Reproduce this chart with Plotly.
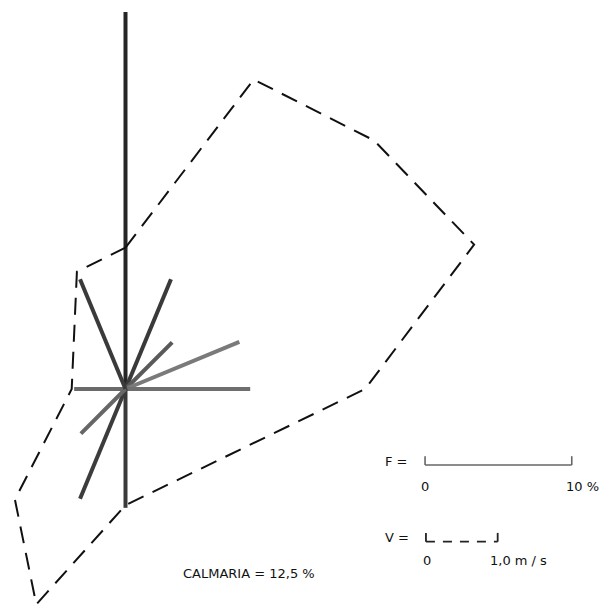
import numpy as np
import plotly.graph_objects as go

# Wind rose: frequency per direction (%) and mean wind speed per direction (m/s)
directions = ["N", "NNE", "NE", "ENE", "E", "S", "SSW", "SW", "W", "NNW"]
azimuth_deg = [0, 22.5, 45, 67.5, 90, 180, 202.5, 225, 270, 337.5]
frequency_pct = [25.7, 8.1, 4.5, 8.4, 8.5, 8.1, 8.1, 4.3, 3.5, 8.1]
speed_ms = [1.97, 4.67, 4.90, 5.26, 3.34, 1.62, 3.25, 2.18, 0.75, 1.77]
calm_pct = 12.5

# Scale references
freq_scale_pct = 10.0
speed_scale_ms = 1.0
pct_per_ms = 4.89  # drawing length of 1 m/s, in frequency units

az = np.radians(azimuth_deg)
freq = np.array(frequency_pct)
spd = np.array(speed_ms) * pct_per_ms

line_colors = {"N": "#262626", "NNE": "#3a3a3a", "NE": "#5a5a5a", "ENE": "#7a7a7a",
               "E": "#6e6e6e", "S": "#3a3a3a", "SSW": "#3c3c3c", "SW": "#666666",
               "W": "#6a6a6a", "NNW": "#3a3a3a"}

fig = go.Figure()

# Frequency rays
for name, a, f in zip(directions, az, freq):
    fig.add_trace(go.Scatter(
        x=[0, f * np.sin(a)], y=[0, f * np.cos(a)], mode="lines",
        line=dict(color=line_colors[name], width=4),
        hoverinfo="skip", showlegend=False))

# Mean speed polygon (dashed)
px = np.append(spd * np.sin(az), spd[0] * np.sin(az[0]))
py = np.append(spd * np.cos(az), spd[0] * np.cos(az[0]))
fig.add_trace(go.Scatter(
    x=px, y=py, mode="lines",
    line=dict(color="#111111", width=2, dash="17px,10px"),
    hoverinfo="skip", showlegend=False))

# Frequency scale bar
fx0, fy = 20.42, -5.18
tick = 0.6
fig.add_trace(go.Scatter(
    x=[fx0, fx0, None, fx0, fx0 + freq_scale_pct, None,
       fx0 + freq_scale_pct, fx0 + freq_scale_pct],
    y=[fy + tick, fy, None, fy, fy, None, fy, fy + tick],
    mode="lines", line=dict(color="#666666", width=1.6),
    hoverinfo="skip", showlegend=False))

# Speed scale bar (dashed)
vx0, vy = 20.48, -10.41
vlen = speed_scale_ms * pct_per_ms
fig.add_trace(go.Scatter(
    x=[vx0, vx0, None, vx0 + vlen, vx0 + vlen],
    y=[vy + tick, vy, None, vy, vy + tick],
    mode="lines", line=dict(color="#222222", width=1.8),
    hoverinfo="skip", showlegend=False))
fig.add_trace(go.Scatter(
    x=[vx0, vx0 + vlen], y=[vy, vy], mode="lines",
    line=dict(color="#222222", width=1.8, dash="9px,8px"),
    hoverinfo="skip", showlegend=False))

font = dict(family="DejaVu Sans", size=13, color="#111111")
labels = [
    ("F =", 18.5, -4.95),
    ("0", fx0, -6.65),
    ("10 %", fx0 + freq_scale_pct + 0.75, -6.65),
    ("V =", 18.5, -10.15),
    ("0", vx0 + 0.05, -11.7),
    ("1,0 m / s", vx0 + vlen + 1.4, -11.7),
    ("CALMARIA = 12,5 %", 8.4, -12.6),
]
for txt, x, y in labels:
    fig.add_annotation(x=x, y=y, text=txt, showarrow=False, font=font,
                       xref="x", yref="y")

ppu = 14.67  # pixels per frequency unit
cx, cy = 125.5, 389.0
W, H = 609, 607
fig.update_xaxes(range=[-cx / ppu, (W - cx) / ppu], visible=False, fixedrange=True)
fig.update_yaxes(range=[-(H - cy) / ppu, cy / ppu], visible=False, fixedrange=True)
fig.update_layout(width=W, height=H, margin=dict(l=0, r=0, t=0, b=0),
                  plot_bgcolor="white", paper_bgcolor="white")

fig.write_html("out.html")
